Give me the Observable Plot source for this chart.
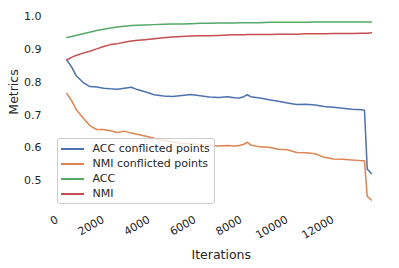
<!DOCTYPE html>
<html><head><meta charset="utf-8">
<script src="https://cdn.jsdelivr.net/npm/d3@7"></script>
<script src="https://cdn.jsdelivr.net/npm/@observablehq/plot@0.6"></script>
<style>
body{margin:0;background:#fff;}
#chart{position:relative;width:399px;height:268px;font-family:"DejaVu Sans",sans-serif;color:#262626;}
.legend{position:absolute;left:56.5px;top:137.5px;width:158px;height:66px;box-sizing:border-box;border:1px solid #cccccc;border-radius:3px;background:rgba(255,255,255,0.8);}
.row{position:absolute;left:0;height:15px;width:100%;}
.sw{position:absolute;left:3px;top:7px;width:23px;height:0;border-top:2px solid;}
.lb{position:absolute;left:35px;top:0;font-size:11px;line-height:15px;white-space:nowrap;}
</style>
</head><body>
<div id="chart"></div>
<script>
const seriesNames = ["ACC conflicted points", "NMI conflicted points", "ACC", "NMI"];
const seriesColors = ["#4C72B0", "#DD8452", "#55A868", "#C44E52"];
const xTicks = [0, 2000, 4000, 6000, 8000, 10000, 12000];
const yTicks = [0.5, 0.6, 0.7, 0.8, 0.9, 1.0];

const iterations = [200, 400, 600, 900, 1200, 1500, 1800, 2100, 2400, 2700, 3000, 3300, 3600, 4000, 4400, 4800, 5200, 5600, 6000, 6400, 6800, 7200, 7500, 7700, 7900, 8050, 8200, 8600, 9000, 9400, 9800, 10200, 10600, 11000, 11400, 11800, 12200, 12600, 13000, 13150, 13270, 13450];

const accConflicted = [0.868, 0.848, 0.821, 0.800, 0.787, 0.786, 0.782, 0.780, 0.779, 0.782, 0.785, 0.777, 0.771, 0.762, 0.758, 0.757, 0.760, 0.763, 0.759, 0.755, 0.754, 0.756, 0.753, 0.752, 0.756, 0.762, 0.756, 0.752, 0.747, 0.742, 0.737, 0.732, 0.733, 0.731, 0.726, 0.724, 0.721, 0.718, 0.716, 0.715, 0.535, 0.522];
const nmiConflicted = [0.766, 0.745, 0.718, 0.692, 0.668, 0.656, 0.656, 0.652, 0.647, 0.651, 0.645, 0.641, 0.636, 0.629, 0.623, 0.618, 0.614, 0.612, 0.610, 0.608, 0.606, 0.607, 0.606, 0.607, 0.611, 0.617, 0.609, 0.603, 0.602, 0.596, 0.594, 0.586, 0.585, 0.582, 0.571, 0.566, 0.565, 0.563, 0.561, 0.561, 0.452, 0.441];
const acc = [0.937, 0.940, 0.943, 0.948, 0.953, 0.958, 0.962, 0.966, 0.969, 0.971, 0.973, 0.974, 0.975, 0.976, 0.977, 0.978, 0.978, 0.979, 0.980, 0.980, 0.981, 0.981, 0.981, 0.982, 0.982, 0.982, 0.982, 0.982, 0.983, 0.983, 0.983, 0.983, 0.983, 0.984, 0.984, 0.984, 0.984, 0.984, 0.984, 0.984, 0.984, 0.984];
const nmi = [0.868, 0.876, 0.882, 0.889, 0.895, 0.902, 0.909, 0.915, 0.918, 0.922, 0.926, 0.928, 0.930, 0.933, 0.936, 0.938, 0.940, 0.941, 0.942, 0.942, 0.943, 0.944, 0.945, 0.945, 0.945, 0.946, 0.946, 0.946, 0.946, 0.947, 0.947, 0.947, 0.948, 0.948, 0.948, 0.949, 0.949, 0.949, 0.950, 0.950, 0.950, 0.951];

const seriesValues = [accConflicted, nmiConflicted, acc, nmi];
const rows = [];
seriesValues.forEach((vals, s) => vals.forEach((v, i) => rows.push({series: seriesNames[s], it: iterations[i], v})));

const chart = Plot.plot({
  width: 399, height: 268,
  marginLeft: 51, marginRight: 12.5, marginTop: 12, marginBottom: 59.7,
  style: {fontFamily: "DejaVu Sans", fontSize: "11px", color: "#262626", background: "#fff"},
  x: {domain: [-467, 14130], label: null},
  y: {domain: [0.414, 1.013], label: null},
  color: {domain: seriesNames, range: seriesColors},
  marks: [
    Plot.axisY({ticks: yTicks, tickSize: 0, tickPadding: 10, tickFormat: d3.format(".1f"), label: null, fontSize: 11}),
    Plot.axisX({ticks: xTicks, tickSize: 0, tickRotate: -30, tickPadding: 8, dx: -5, dy: 2, tickFormat: d => String(d), label: null, fontSize: 11}),
    Plot.line(rows, {x: "it", y: "v", z: "series", stroke: "series", strokeWidth: 1.5}),
    Plot.text(["Iterations"], {frameAnchor: "bottom", dx: 2, dy: 50, fontSize: 12.5, fill: "#262626"}),
    Plot.text(["Metrics"], {frameAnchor: "left", rotate: -90, dx: -37.5, dy: 4, fontSize: 12.5, fill: "#262626"})
  ]
});
const root = document.getElementById("chart");
root.appendChild(chart);
const leg = document.createElement("div");
leg.className = "legend";
seriesNames.forEach((n, i) => {
  const r = document.createElement("div");
  r.className = "row";
  r.style.top = (2 + i * 15.1) + "px";
  r.innerHTML = `<div class="sw" style="border-color:${seriesColors[i]}"></div><div class="lb">${n}</div>`;
  leg.appendChild(r);
});
root.appendChild(leg);
</script>
</body></html>
